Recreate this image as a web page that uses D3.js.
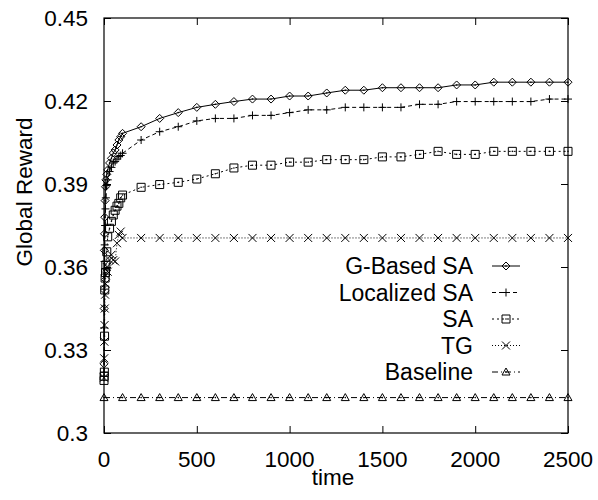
<!DOCTYPE html>
<html>
<head>
<meta charset="utf-8">
<script src="https://cdn.jsdelivr.net/npm/d3@7"></script>
<style>
  body { margin: 0; background: #fff; }
  text { font-family: "Liberation Sans", Arial, sans-serif; fill: #000; }
</style>
</head>
<body>
<div id="chart"></div>
<script>
// time samples (dense at the start, then every 100)
var earlyTime = [0, 1, 2, 3, 4, 6, 8, 10, 15, 20, 30, 40, 50, 60, 70, 80, 90, 100];
var lateTime = [200, 300, 400, 500, 600, 700, 800, 900, 1000, 1100, 1200, 1300,
  1400, 1500, 1600, 1700, 1800, 1900, 2000, 2100, 2200, 2300, 2400, 2500];
var time = earlyTime.concat(lateTime);
var baselineTime = [0, 100].concat(lateTime);

// series values
var gBasedSA = [0.325, 0.345, 0.366, 0.372, 0.378, 0.384, 0.389, 0.3915, 0.3935, 0.3951,
  0.3976, 0.3993, 0.4012, 0.4023, 0.4041, 0.4059, 0.4071, 0.4083,
  0.4107, 0.4137, 0.4158, 0.4177, 0.4188, 0.4198, 0.4207, 0.4207, 0.4218, 0.4218,
  0.4229, 0.4239, 0.4239, 0.4248, 0.4248, 0.4248, 0.4248, 0.4258, 0.4258, 0.4268,
  0.4268, 0.4268, 0.4268, 0.4268];
var localizedSA = [0.322, 0.338, 0.352, 0.362, 0.368, 0.375, 0.381, 0.385, 0.3895, 0.3915,
  0.3945, 0.396, 0.3976, 0.3981, 0.399, 0.3999, 0.4003, 0.4011,
  0.4059, 0.4089, 0.4107, 0.4128, 0.4137, 0.4137, 0.4148, 0.4148, 0.4158, 0.4168,
  0.4168, 0.4177, 0.4177, 0.4177, 0.4177, 0.4188, 0.4188, 0.4198, 0.4198, 0.4198,
  0.4198, 0.4198, 0.4207, 0.4207];
var sa = [0.319, 0.3205, 0.322, 0.335, 0.3517, 0.356, 0.358, 0.3607, 0.3655, 0.3709,
  0.374, 0.3765, 0.3788, 0.3805, 0.382, 0.383, 0.385, 0.386,
  0.3888, 0.3898, 0.3906, 0.3918, 0.3937, 0.3958, 0.3968, 0.3968, 0.3979, 0.3979,
  0.3988, 0.3988, 0.3988, 0.3998, 0.3998, 0.4007, 0.4018, 0.4007, 0.4007, 0.4018,
  0.4018, 0.4018, 0.4018, 0.4018];
var tg = [0.32, 0.327, 0.333, 0.339, 0.345, 0.35, 0.354, 0.357, 0.36, 0.3583,
  0.3625, 0.3644, 0.3625, 0.362, 0.3686, 0.3716, 0.3728, 0.3705,
  0.3705, 0.3705, 0.3705, 0.3705, 0.3705, 0.3705, 0.3705, 0.3705, 0.3705, 0.3705,
  0.3705, 0.3705, 0.3705, 0.3705, 0.3705, 0.3705, 0.3705, 0.3705, 0.3705, 0.3705,
  0.3705, 0.3705, 0.3705, 0.3705];
var baseline = [0.3128, 0.3128, 0.3128, 0.3128, 0.3128, 0.3128, 0.3128, 0.3128, 0.3128,
  0.3128, 0.3128, 0.3128, 0.3128, 0.3128, 0.3128, 0.3128, 0.3128, 0.3128, 0.3128,
  0.3128, 0.3128, 0.3128, 0.3128, 0.3128, 0.3128, 0.3128];

var seriesNames = ["G-Based SA", "Localized SA", "SA", "TG", "Baseline"];
var xTicks = [0, 500, 1000, 1500, 2000, 2500];
var yTicks = [0.3, 0.33, 0.36, 0.39, 0.42, 0.45];

// build the series table
var series = [
  { name: seriesNames[0], t: time, v: gBasedSA, dash: null, marker: "diamond" },
  { name: seriesNames[1], t: time, v: localizedSA, dash: "4,3", marker: "plus" },
  { name: seriesNames[2], t: time, v: sa, dash: "2,3", marker: "square" },
  { name: seriesNames[3], t: time, v: tg, dash: "1,2", marker: "cross" },
  { name: seriesNames[4], t: baselineTime, v: baseline, dash: "6,3,1,3", marker: "triangle" }
];
series.forEach(function (s) {
  s.points = s.t.map(function (t, i) {
    return { time: t, value: s.v[i] };
  });
});

var width = 598;
var height = 500;
var margin = { top: 18, right: 30, bottom: 67, left: 104 };

var svg = d3
  .select("#chart")
  .append("svg")
  .attr("width", width)
  .attr("height", height);

var x = d3.scaleLinear().domain([0, 2500]).range([margin.left, width - margin.right]);
var y = d3.scaleLinear().domain([0.3, 0.45]).range([height - margin.bottom, margin.top]);

// ticks pointing inward on all four sides
var tickLen = 7;
svg.append("g")
  .attr("transform", "translate(0," + y(0.3) + ")")
  .call(d3.axisBottom(x).tickValues(xTicks).tickSize(-tickLen).tickFormat(""))
  .call(function (g) { g.select(".domain").remove(); });
svg.append("g")
  .attr("transform", "translate(0," + y(0.45) + ")")
  .call(d3.axisTop(x).tickValues(xTicks).tickSize(-tickLen).tickFormat(""))
  .call(function (g) { g.select(".domain").remove(); });
svg.append("g")
  .attr("transform", "translate(" + x(0) + ",0)")
  .call(d3.axisLeft(y).tickValues(yTicks).tickSize(-tickLen).tickFormat(""))
  .call(function (g) { g.select(".domain").remove(); });
svg.append("g")
  .attr("transform", "translate(" + x(2500) + ",0)")
  .call(d3.axisRight(y).tickValues(yTicks).tickSize(-tickLen).tickFormat(""))
  .call(function (g) { g.select(".domain").remove(); });
svg.selectAll(".tick line").attr("stroke", "#000");

// tick labels
svg.selectAll(".xlabel")
  .data(xTicks)
  .enter()
  .append("text")
  .attr("x", function (d) { return x(d); })
  .attr("y", 467)
  .attr("text-anchor", "middle")
  .style("font-size", "22.5px")
  .text(function (d) { return d; });

svg.selectAll(".ylabel")
  .data(yTicks)
  .enter()
  .append("text")
  .attr("x", 88)
  .attr("y", function (d) { return y(d) + 8; })
  .attr("text-anchor", "end")
  .style("font-size", "22.5px")
  .text(function (d) { return d3.format("")(+d.toFixed(2)); });

// axis titles
svg.append("text")
  .attr("x", x(1250) - 3)
  .attr("y", 485)
  .attr("text-anchor", "middle")
  .style("font-size", "22.5px")
  .text("time");

svg.append("text")
  .attr("transform", "translate(32,192) rotate(-90)")
  .attr("text-anchor", "middle")
  .style("font-size", "22.5px")
  .text("Global Reward");

// marker shapes
function markerPath(type, r) {
  if (type === "diamond") return "M0," + -r + "L" + r + ",0L0," + r + "L" + -r + ",0Z";
  if (type === "plus") return "M" + -r + ",0H" + r + "M0," + -r + "V" + r;
  if (type === "square") return "M" + -r + "," + -r + "H" + r + "V" + r + "H" + -r + "Z";
  if (type === "cross") return "M" + -r + "," + -r + "L" + r + "," + r + "M" + r + "," + -r + "L" + -r + "," + r;
  return "M0," + -r + "L" + r + "," + r * 0.75 + "H" + -r + "Z";
}

function drawMarkers(g, s, pts) {
  g.selectAll("path.mk")
    .data(pts)
    .enter()
    .append("path")
    .attr("class", "mk")
    .attr("transform", function (d) { return "translate(" + x(d.time) + "," + y(d.value) + ")"; })
    .attr("d", markerPath(s.marker, 4))
    .attr("fill", "none")
    .attr("stroke", "#000")
    .attr("stroke-width", 1);
  if (s.marker !== "plus" && s.marker !== "cross") {
    g.selectAll("circle.dot")
      .data(pts)
      .enter()
      .append("circle")
      .attr("class", "dot")
      .attr("cx", function (d) { return x(d.time); })
      .attr("cy", function (d) { return y(d.value); })
      .attr("r", 0.8)
      .attr("fill", "#000");
  }
}

var line = d3
  .line()
  .x(function (d) { return x(d.time); })
  .y(function (d) { return y(d.value); });

// draw series back to front
series.slice().reverse().forEach(function (s) {
  var g = svg.append("g");
  g.append("path")
    .datum(s.points)
    .attr("fill", "none")
    .attr("stroke", "#000")
    .attr("stroke-width", 1)
    .attr("stroke-dasharray", s.dash)
    .attr("d", line);
  drawMarkers(g, s, s.points);
});

// plot border
svg.append("rect")
  .attr("x", x(0))
  .attr("y", y(0.45))
  .attr("width", x(2500) - x(0))
  .attr("height", y(0.3) - y(0.45))
  .attr("fill", "none")
  .attr("stroke", "#000")
  .attr("stroke-width", 1.2);

// legend
var legendY = [266, 292.5, 319, 345.5, 372];
series.forEach(function (s, i) {
  var ly = legendY[i];
  var lg = svg.append("g");
  lg.append("text")
    .attr("x", 473)
    .attr("y", ly + 8)
    .attr("text-anchor", "end")
    .style("font-size", "23px")
    .text(s.name);
  lg.append("path")
    .attr("d", "M492," + ly + "H520")
    .attr("stroke", "#000")
    .attr("stroke-width", 1)
    .attr("stroke-dasharray", s.dash);
  var mk = lg.append("g").attr("transform", "translate(506," + ly + ")");
  mk.append("path")
    .attr("d", markerPath(s.marker, 4))
    .attr("fill", "none")
    .attr("stroke", "#000");
  if (s.marker !== "plus" && s.marker !== "cross") {
    mk.append("circle").attr("r", 0.8).attr("fill", "#000");
  }
});
</script>
</body>
</html>
